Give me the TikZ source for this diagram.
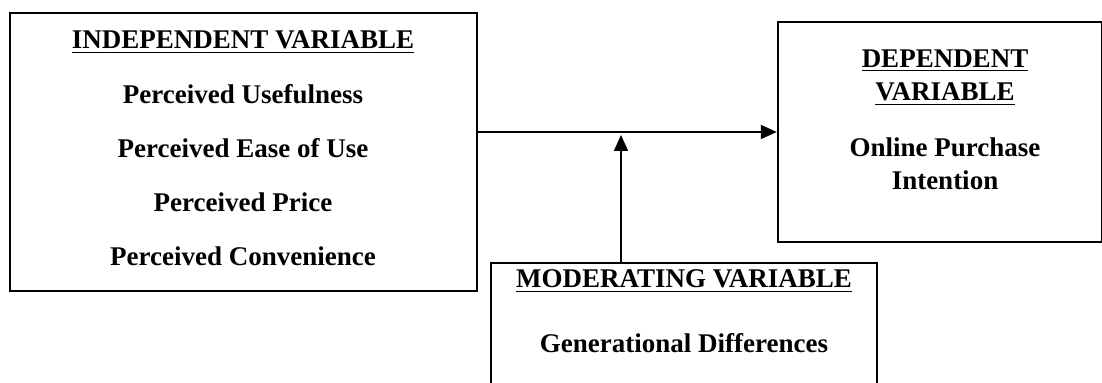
\documentclass[tikz,border=0pt]{standalone}
\usepackage{fontspec}
\setmainfont{Liberation Serif}
\usetikzlibrary{arrows.meta,positioning}
\tikzset{
  varbox/.style={draw, line width=1.2pt, inner sep=0pt},
  vartext/.style={anchor=base, inner sep=0pt, font=\fontsize{13.5}{16}\selectfont\bfseries},
  link/.style={line width=0.8pt, -{Triangle[length=8pt,width=7pt]}}
}

\begin{document}
\begin{tikzpicture}[x=0.5pt, y=-0.5pt]
            \clip (0,0) rectangle (1102,383);
            % the three boxes
            \node[varbox, minimum width=233.5pt, minimum height=139pt] (indep) at (243.5,152) {};
            \node[varbox, minimum width=162pt, minimum height=110pt] (dep) at (940,132) {};
            \node[varbox, minimum width=193pt, minimum height=80pt] (mod) at (684,343) {};

            % independent variable
            \node[vartext] (indeptitle) at (243,49) {\underline{INDEPENDENT VARIABLE}};
            \foreach \txt [count=\i] in {Perceived Usefulness, Perceived Ease of Use, Perceived Price, Perceived Convenience}
                \node[vartext] (iv\i) at (243,50+54*\i) {\txt};

            % dependent variable
            \node[vartext] (deptitle1) at (945,68) {\underline{DEPENDENT}};
            \node[vartext] (deptitle2) at (945,101) {\underline{VARIABLE}};
            \node[vartext] (dv1) at (945,157) {Online Purchase};
            \node[vartext] (dv2) at (945,190) {Intention};

            % moderating variable
            \node[vartext] (modtitle) at (684,288) {\underline{MODERATING VARIABLE}};
            \node[vartext] (mv1) at (684,353) {Generational Differences};

            % links
            \coordinate (meet) at (621,135);
            \draw[link] (indep.east |- dep.west) -- (dep.west);
            \draw[link] (mod.north -| meet) -- (meet);
\end{tikzpicture}
\end{document}
